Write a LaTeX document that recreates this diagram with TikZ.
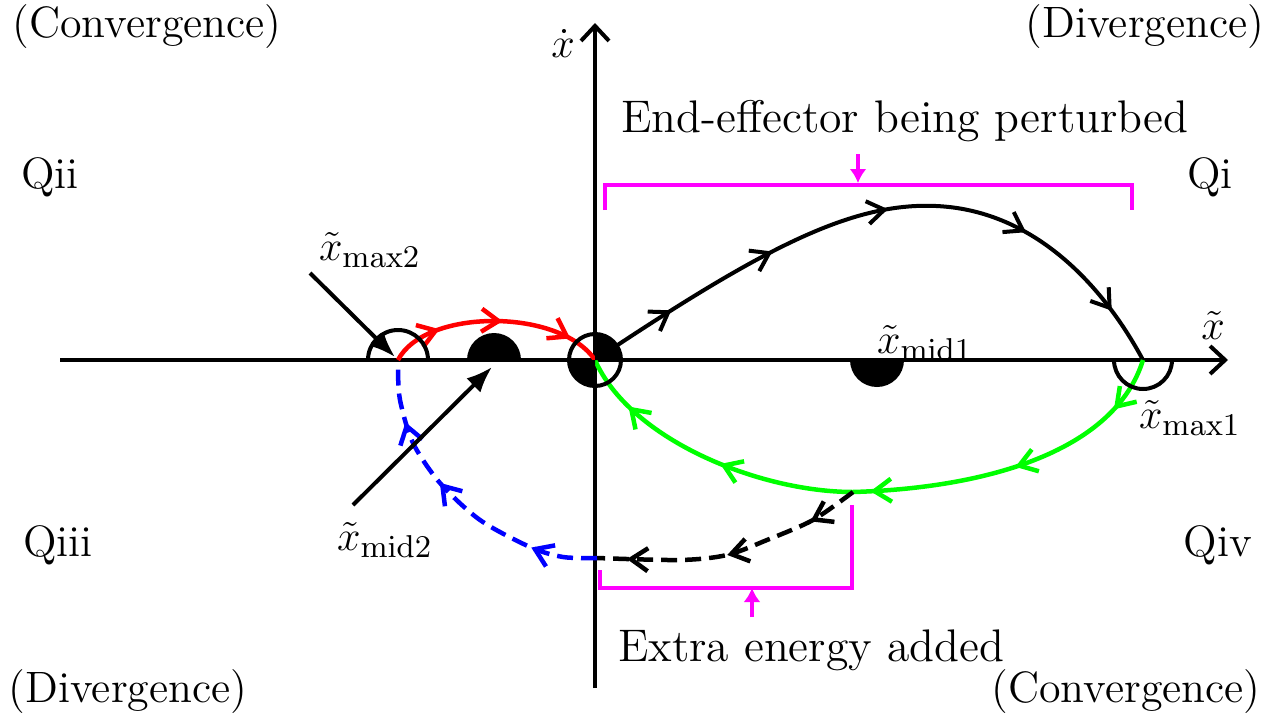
\documentclass[tikz,border=0pt]{standalone}
\usetikzlibrary{arrows.meta,decorations.markings}

\definecolor{tagmagenta}{RGB}{255,0,255}
\definecolor{flowred}{RGB}{255,0,0}
\definecolor{flowgreen}{RGB}{0,255,0}
\definecolor{flowblue}{RGB}{0,0,255}
\newcommand{\flowtip}{\arrow{Straight Barb[length=1.7mm,width=2.3mm]}}

\begin{document}
\begin{tikzpicture}[
        x=0.1mm, y=0.1mm,
        every node/.style={font=\fontsize{12.5}{15}\selectfont},
        note/.style={font=\fontsize{13}{16}\selectfont},
        axis/.style={line width=0.4mm, -{Straight Barb[length=1.5mm,width=2.8mm]}},
        pointer/.style={line width=0.4mm, -{Latex[length=2.6mm,width=2mm]}},
        bracket/.style={tagmagenta, line width=0.4mm},
        tag/.style={tagmagenta, line width=0.4mm, -{Latex[length=1.4mm,width=1.7mm]}},
        orbit/.style={line width=0.4mm},
        flow/.style={postaction={decorate, solid}},
        dashes/.style={dash pattern=on 1.6mm off 0.8mm}
    ]
        \useasboundingbox (0,0) rectangle (1280,720);

        % key points
        \coordinate (origin) at (595,360);
        \coordinate (maxone) at (1143,360);
        \coordinate (maxtwo) at (398,360);
        \coordinate (midone) at (877,360);
        \coordinate (midtwo) at (494,360);
        \coordinate (peak) at (936,514);
        \coordinate (kick) at (853,228);
        \coordinate (landing) at (597,162);

        % axes
        \coordinate (xstart) at (60,360);
        \coordinate (xend) at (1228,360);
        \coordinate (ystart) at (595,32);
        \coordinate (yend) at (595,697);
        \draw[axis] (xstart) -- (xend);
        \draw[axis] (ystart) -- (yend);
        \node[inner sep=1pt] (xtilde) at (1213,395) {$\tilde{x}$};
        \node[inner sep=1pt] (xdot) at (563,676) {$\dot{x}$};

        % trajectories
        \draw[orbit, flow, decoration={markings,
                mark=at position 0.14 with \flowtip, mark=at position 0.32 with \flowtip,
                mark=at position 0.51 with \flowtip, mark=at position 0.73 with \flowtip,
                mark=at position 0.91 with \flowtip}]
            (origin) .. controls (760,470) and (850,518) .. (peak)
                     .. controls (1030,510) and (1100,440) .. (maxone);
        \draw[orbit, flowred, line width=0.45mm, flow, decoration={markings,
                mark=at position 0.24 with \flowtip, mark=at position 0.53 with \flowtip,
                mark=at position 0.85 with \flowtip}]
            (maxtwo) .. controls (425,412) and (560,412) .. (origin);
        \draw[orbit, flowgreen, line width=0.45mm, flow, decoration={markings,
                mark=at position 0.09 with \flowtip, mark=at position 0.27 with \flowtip,
                mark=at position 0.50 with \flowtip, mark=at position 0.74 with \flowtip,
                mark=at position 0.91 with \flowtip}]
            (maxone) .. controls (1115,270) and (990,232) .. (kick)
                     .. controls (760,228) and (630,280) .. (origin);
        \draw[orbit, dashes, line width=0.45mm, flow, decoration={markings,
                mark=at position 0.19 with \flowtip, mark=at position 0.52 with \flowtip,
                mark=at position 0.89 with \flowtip}]
            plot[smooth] coordinates {(kick) (813,200) (767,180) (727,165) (680,160) (landing)};
        \draw[orbit, flowblue, dashes, line width=0.45mm, flow, decoration={markings,
                mark=at position 0.22 with \flowtip, mark=at position 0.59 with \flowtip,
                mark=at position 0.82 with \flowtip}]
            plot[smooth] coordinates {(landing) (563,163) (530,173) (480,200) (440,237) (413,277) (400,320) (398,352)};

        % equilibrium markers
        \fill (origin) -- ++(2.6mm,0) arc (0:90:2.6mm) -- cycle;
        \fill (origin) -- ++(-2.6mm,0) arc (180:270:2.6mm) -- cycle;
        \draw[line width=0.4mm] (origin) circle (2.6mm);
        \draw[line width=0.4mm] (maxtwo) ++(3mm,0) arc (0:180:3mm);
        \fill (midtwo) ++(2.7mm,0) arc (0:180:2.7mm) -- cycle;
        \fill (midone) ++(2.7mm,0) arc (0:-180:2.7mm) -- cycle;
        \draw[line width=0.4mm] (maxone) ++(2.9mm,0) arc (0:-180:2.9mm);

        % point labels
        \node (xmaxtwo) at (370,470) {$\tilde{x}_{\mathrm{max2}}$};
        \node (xmidtwo) at (385,180) {$\tilde{x}_{\mathrm{mid2}}$};
        \node (xmidone) at (925,377) {$\tilde{x}_{\mathrm{mid1}}$};
        \node (xmaxone) at (1190,302) {$\tilde{x}_{\mathrm{max1}}$};
        \coordinate (maxtwotail) at (310,447);
        \coordinate (maxtwohead) at (395,363);
        \coordinate (midtwotail) at (353,215);
        \coordinate (midtwohead) at (492,353);
        \draw[pointer] (maxtwotail) -- (maxtwohead);
        \draw[pointer] (midtwotail) -- (midtwohead);

        % quadrants
        \node (qi) at (1210,543) {Qi};
        \node (qii) at (50,543) {Qii};
        \node (qiii) at (58,175) {Qiii};
        \node (qiv) at (1218,175) {Qiv};
        \node (convleft) at (147,693) {(Convergence)};
        \node (divright) at (1145,693) {(Divergence)};
        \node (divleft) at (128,28) {(Divergence)};
        \node (convright) at (1126,28) {(Convergence)};

        % annotations
        \node[note] (perturbed) at (905,599) {End-effector being perturbed};
        \draw[bracket] (605,510) -- (605,535) -- (1132,535) -- (1132,510);
        \coordinate (perturbedtip) at (858,537);
        \draw[tag] (perturbed.south -| perturbedtip) -- (perturbedtip);
        \node[note] (extra) at (811,70) {Extra energy added};
        \draw[bracket] (600,150) -- (600,132) -- (852,132) -- (852,215);
        \coordinate (extratip) at (752,132);
        \draw[tag] (extra.north -| extratip) -- (extratip);
    \end{tikzpicture}
\end{document}
